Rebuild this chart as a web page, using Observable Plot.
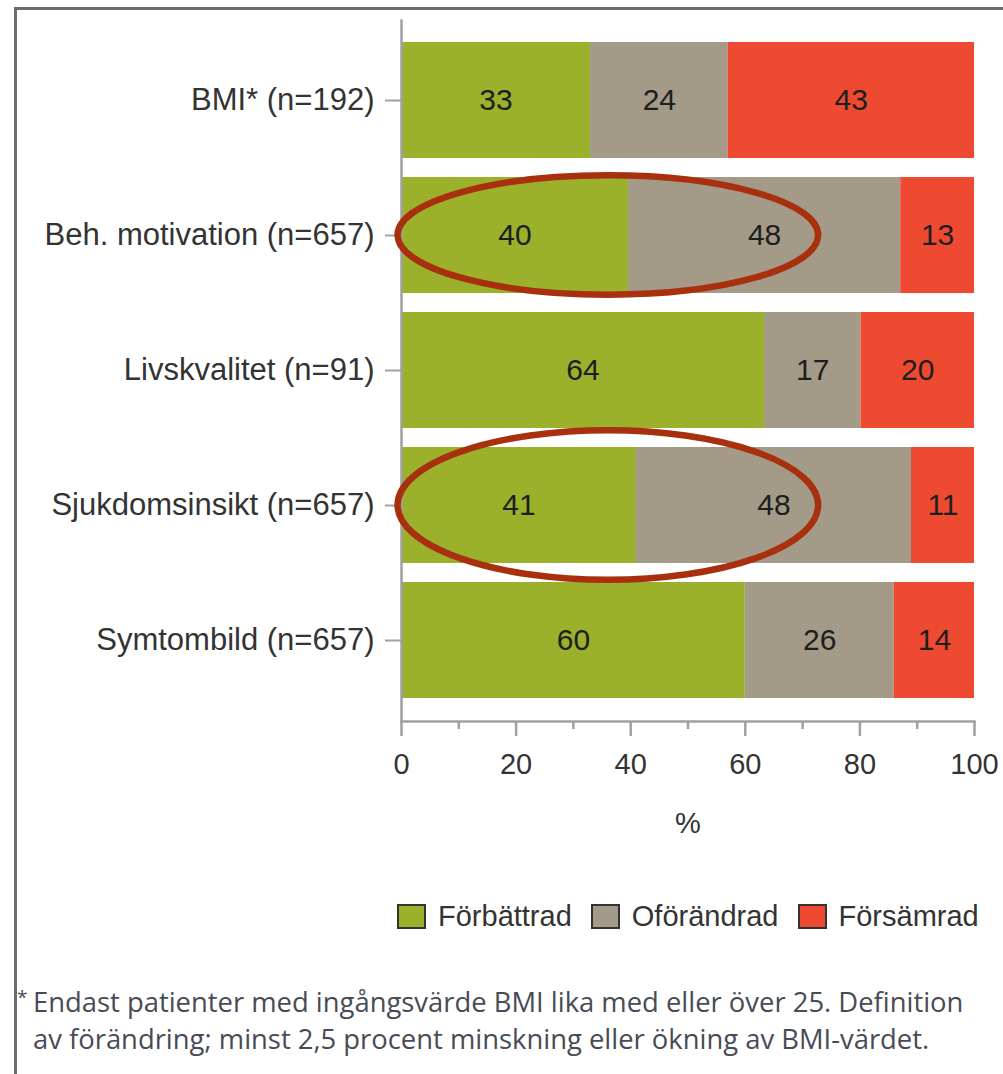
<!DOCTYPE html>
<html><head><meta charset="utf-8">
<script src="https://cdn.jsdelivr.net/npm/d3@7"></script>
<script src="https://cdn.jsdelivr.net/npm/@observablehq/plot@0.6"></script>
<style>
body{margin:0;background:#fff;}
#wrap{position:relative;width:1003px;height:1074px;overflow:hidden;font-family:"Liberation Sans",Arial,sans-serif;background:#fff;}
#frame{position:absolute;left:14px;top:7px;width:1100px;height:1200px;border-left:3px solid #6b6b6b;border-top:3px solid #6b6b6b;}
#chart{position:absolute;left:0;top:0;}
#legend{position:absolute;left:397px;top:900px;display:flex;align-items:center;font-size:29px;color:#333;white-space:nowrap;}
#legend .sw{display:inline-block;width:25px;height:21px;border:2px solid #333;margin-right:12px;}
#legend .item{display:flex;align-items:center;margin-right:19px;}
#note{position:absolute;left:0;top:983px;font-family:"Open Sans",sans-serif;font-size:27.4px;line-height:37px;color:#474b55;white-space:nowrap;}
#note .ast{position:absolute;left:17px;top:-4px;font-size:19px;}
#note .txt{padding-left:33px;}
</style>
</head><body>
<div id="wrap">
  <div id="frame"></div>
  <div id="chart"></div>
  <div id="legend"></div>
  <div id="note"><span class="ast">*</span><div class="txt">Endast patienter med ingångsvärde BMI lika med eller över 25. Definition<br>av förändring; minst 2,5 procent minskning eller ökning av BMI-värdet.</div></div>
</div>
<script>
const categories = ["BMI* (n=192)", "Beh. motivation (n=657)", "Livskvalitet (n=91)", "Sjukdomsinsikt (n=657)", "Symtombild (n=657)"];
const series = ["Förbättrad", "Oförändrad", "Försämrad"];
const forbattrad = [33, 40, 64, 41, 60];
const oforandrad = [24, 48, 17, 48, 26];
const forsamrad = [43, 13, 20, 11, 14];
const colors = ["#9bb02b", "#a39b88", "#ee4a32"];
const xTicks = [0, 20, 40, 60, 80, 100];
const xMinorTicks = [10, 30, 50, 70, 90];
const xLabel = "%";
const highlights = [
  {category: "Beh. motivation (n=657)", from: -0.6, to: 72.8, spread: 1.03},
  {category: "Sjukdomsinsikt (n=657)", from: -0.6, to: 72.8, spread: 1.29}
];

const seriesValues = [forbattrad, oforandrad, forsamrad];
const rows = [];
categories.forEach((c, i) => series.forEach((s, j) => rows.push({category: c, series: s, value: seriesValues[j][i]})));

const font = '"Liberation Sans", Arial, sans-serif';

function ellipses(index, scales) {
  const g = d3.create("svg:g");
  const bw = scales.y.bandwidth ? scales.y.bandwidth() : 0;
  for (const h of highlights) {
    const x1 = scales.x(h.from), x2 = scales.x(h.to);
    const cy = scales.y(h.category) + bw / 2;
    g.append("ellipse")
      .attr("cx", (x1 + x2) / 2).attr("cy", cy)
      .attr("rx", (x2 - x1) / 2).attr("ry", bw / 2 * h.spread)
      .attr("fill", "none").attr("stroke", "#a8300f").attr("stroke-width", 6.5);
  }
  return g.node();
}

const chart = Plot.plot({
  width: 1003, height: 850,
  marginLeft: 401, marginRight: 29, marginTop: 20, marginBottom: 129,
  style: {fontFamily: font, background: "transparent", overflow: "visible"},
  x: {domain: [0, 100], percent: true},
  y: {domain: categories, paddingInner: 0.14, paddingOuter: 0.16},
  color: {domain: series, range: colors},
  marks: [
    Plot.barX(rows, Plot.stackX({offset: "normalize", x: "value", y: "category", fill: "series"})),
    Plot.text(rows, Plot.stackX({offset: "normalize", x: "value", y: "category", z: "series", text: d => String(d.value), fontSize: 30, fill: "#1e1e1e"})),
    Plot.frame({anchor: "left", stroke: "#a0a0a0", strokeWidth: 2.5}),
    Plot.frame({anchor: "bottom", stroke: "#a0a0a0", strokeWidth: 2.5}),
    Plot.axisY({tickSize: 16, tickPadding: 11, fontSize: 31, fill: "#333", stroke: "#a0a0a0", strokeWidth: 2, label: null}),
    Plot.axisX({ticks: xTicks, tickSize: 15, tickPadding: 17, fontSize: 29, fill: "#333", stroke: "#a0a0a0", strokeWidth: 2.5, label: null}),
    Plot.axisX({ticks: xMinorTicks, tickSize: 8, tickFormat: () => "", stroke: "#a0a0a0", strokeWidth: 2.5, label: null}),
    Plot.text([xLabel], {text: d => d, frameAnchor: "bottom", dy: 111, fontSize: 29, fill: "#333"}),
    ellipses
  ]
});
document.getElementById("chart").appendChild(chart);

const legend = d3.select("#legend");
series.forEach((s, i) => {
  const it = legend.append("div").attr("class", "item");
  it.append("span").attr("class", "sw").style("background", colors[i]);
  it.append("span").text(s);
});
</script>
</body></html>
